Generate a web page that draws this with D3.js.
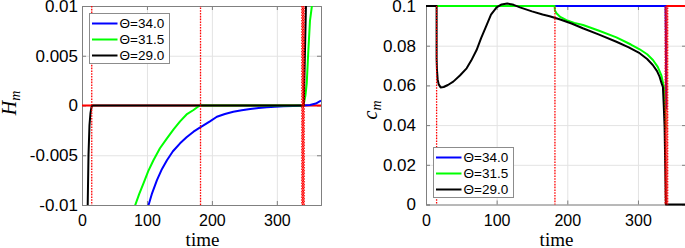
<!DOCTYPE html>
<html lang="en">
<head>
<meta charset="UTF-8">
<title>H_m and c_m over time</title>
<script src="https://cdn.jsdelivr.net/npm/d3@7"></script>
<style>
  body { margin: 0; background: #fff; }
  svg text { font-family: "Liberation Sans", Arial, sans-serif; fill: #000; }
  .serif { font-family: "Liberation Serif", "Times New Roman", serif; }
  .grid line { stroke: #e3e3e3; }
  .grid path { display: none; }
  .frame path, .frame line { stroke: #808080; }
</style>
</head>
<body>
<svg id="chart" width="685" height="248"></svg>
<script>
// legend / series
const legendLabels = ["Θ=34.0", "Θ=31.5", "Θ=29.0"];
const seriesColors = ["#0000ff", "#00ff00", "#000000"];

// ticks
const xTicks = [0, 100, 200, 300];
const hTicks = [-0.01, -0.005, 0, 0.005, 0.01];
const hTickLabels = ["-0.01", "-0.005", "0", "0.005", "0.01"];
const cTicks = [0, 0.02, 0.04, 0.06, 0.08, 0.1];
const cTickLabels = ["0", "0.02", "0.04", "0.06", "0.08", "0.1"];

// red dotted switching times
const switchTimes = [15, 182.5, 338.5, 339.7, 340.9, 342.1];

// H_m, [time, value]
const hBlue = [[100,-0.0108],[102.5,-0.01],[108,-0.0088],[115.4,-0.0075],[123,-0.0064],[130.8,-0.0055],
  [140,-0.0046],[151,-0.0038],[161,-0.0032],[171.7,-0.00263],[182,-0.0022],[197,-0.0016],[207.7,-0.00113],
  [220,-0.00085],[233,-0.00062],[246,-0.00047],[259,-0.00035],[272,-0.00025],[284.6,-0.00018],[297,-0.00012],
  [310,-0.00008],[325,-0.00005],[341,0],[351,0.00005],[360,0.0002],[368,0.0005]];
const hGreen = [[80,-0.0115],[82,-0.01],[88,-0.0089],[94.8,-0.0078],[102,-0.0066],[110,-0.0055],[120,-0.0043],
  [130.8,-0.0033],[141,-0.0024],[151,-0.0016],[161,-0.0009],[171.7,-0.00045],[178,-0.00015],[182,0],
  [341,0],[344,0.001],[346,0.0022],[348.5,0.0055],[351,0.0085],[355,0.0105]];
const hBlack = [[8.3,-0.012],[10,-0.005],[11.5,-0.002],[13,-0.0008],[14.5,-0.0002],[15.5,0],
  [341.5,0],[345,0.0105]];
const hRef = [[0,0],[368,0]];

// c_m, [time, value]
const cBlue = [[0,0.1],[339,0.1],[339.5,0.086],[340,0.048]];
const cGreen = [[0,0.1],[182,0.1],[182.5,0.0977],[184.7,0.0963],[190,0.0945],[198.8,0.0929],[210,0.0915],
  [222.3,0.0904],[245,0.0875],[269.5,0.0842],[290,0.0806],[302.4,0.0782],[313,0.0757],[321.2,0.0728],
  [328,0.0693],[333,0.0652],[336.7,0.0593],[338,0.05],[339,0.038]];
const cBlack = [[0,0.1],[15,0.1],[15,0.0737],[15.5,0.068],[16.5,0.063],[18,0.0605],[20.7,0.059],[25,0.0592],
  [31,0.0602],[38.6,0.0619],[48,0.065],[57.5,0.0686],[64,0.0725],[71.6,0.0778],[78,0.0838],[85.8,0.0904],
  [92,0.0957],[99.9,0.0993],[107,0.1008],[115,0.1013],[124,0.1006],[133,0.0993],[150,0.0973],[165,0.0957],
  [175,0.0948],[190,0.0932],[206,0.0912],[222,0.0888],[245,0.0856],[269.5,0.082],[287,0.0792],[302.4,0.0762],
  [313,0.0733],[321,0.0703],[327,0.0672],[330.6,0.0644],[333.5,0.061],[335.3,0.0593],[336.5,0.05],
  [337.7,0.0392],[339.5,0],[368,0]];
const cRef = [[0,0.1],[368,0.1]];

const svg = d3.select("#chart");

function drawPanel(p) {
  const x = d3.scaleLinear().domain([0, 368]).range([p.left, p.right]);
  const y = d3.scaleLinear().domain(p.yDomain).range([p.bottom, p.top]);
  const g = svg.append("g");
  const w = p.right - p.left, h = p.bottom - p.top;

  // grid
  g.append("g").attr("class", "grid")
   .attr("transform", `translate(0,${p.bottom})`)
   .call(d3.axisBottom(x).tickValues(xTicks).tickSize(-h).tickFormat(""));
  g.append("g").attr("class", "grid")
   .attr("transform", `translate(${p.left},0)`)
   .call(d3.axisLeft(y).tickValues(p.yTicks).tickSize(-w).tickFormat(""));

  // axes box (below the data, like matlab)
  g.append("g").attr("class", "frame")
   .attr("transform", `translate(0,${p.bottom})`)
   .call(d3.axisBottom(x).tickValues(xTicks).tickSize(-4).tickPadding(10))
   .selectAll("text").attr("font-size", "16px");
  g.append("g").attr("class", "frame")
   .attr("transform", `translate(0,${p.top})`)
   .call(d3.axisTop(x).tickValues(xTicks).tickSize(-4).tickFormat(""));
  g.append("g").attr("class", "frame")
   .attr("transform", `translate(${p.left},0)`)
   .call(d3.axisLeft(y).tickValues(p.yTicks).tickSize(-4).tickPadding(p.yPad)
     .tickFormat((d, i) => p.yTickLabels[i]))
   .selectAll("text").attr("font-size", "17px");
  g.append("g").attr("class", "frame")
   .attr("transform", `translate(${p.right},0)`)
   .call(d3.axisRight(y).tickValues(p.yTicks).tickSize(-4).tickFormat(""));

  // clip
  g.append("clipPath").attr("id", p.id)
   .append("rect")
   .attr("x", p.left).attr("y", p.top - p.clipPad)
   .attr("width", w).attr("height", h + 2 * p.clipPad);

  const plot = g.append("g").attr("clip-path", `url(#${p.id})`);
  const line = d3.line().x(d => x(d[0])).y(d => y(d[1]));

  plot.append("path").datum(p.ref)
   .attr("fill", "none").attr("stroke", "#ff0000").attr("stroke-width", 2).attr("d", line);

  p.series.forEach((s, i) => {
    plot.append("path").datum(s)
     .attr("fill", "none").attr("stroke", seriesColors[i])
     .attr("stroke-width", 2).attr("stroke-linejoin", "round").attr("d", line);
  });

  // offset dashes so the cluster near 340 looks dense
  plot.selectAll(".switch").data(switchTimes).enter().append("line")
   .attr("x1", d => x(d)).attr("x2", d => x(d))
   .attr("y1", p.top).attr("y2", p.bottom)
   .attr("stroke", "#ff0000").attr("stroke-width", 1.3)
   .attr("stroke-dasharray", "1.6,1.2")
   .attr("stroke-dashoffset", (d, i) => (i % 2) * 1.4);

  // x label
  g.append("text").attr("class", "serif")
   .attr("x", (p.left + Math.min(p.right, 685)) / 2 + 1).attr("y", 246)
   .attr("text-anchor", "middle").attr("font-size", "19px")
   .text("time");

  // y label
  const yl = g.append("text").attr("class", "serif")
   .attr("transform", `translate(${p.yLabelX},${p.yLabelY}) rotate(-90)`)
   .attr("text-anchor", "middle").attr("font-size", "20px").attr("font-style", "italic");
  yl.append("tspan").text(p.yLabel);
  yl.append("tspan").attr("font-size", "14px").attr("dy", 4).text("m");

  // legend
  const lg = g.append("g").attr("transform", `translate(${p.legend[0]},${p.legend[1]})`);
  lg.append("rect").attr("width", 80).attr("height", 50)
   .attr("fill", "#fff").attr("stroke", "#8c8c8c").attr("stroke-width", 1);
  legendLabels.forEach((lab, i) => {
    const ly = 10 + i * 16;
    lg.append("line").attr("x1", 2.5).attr("x2", 28).attr("y1", ly).attr("y2", ly)
     .attr("stroke", seriesColors[i]).attr("stroke-width", 2);
    lg.append("text").attr("x", 30).attr("y", ly).attr("dy", "0.36em")
     .attr("font-size", "13.5px").text(lab);
  });
}

drawPanel({
  id: "clipH", left: 82, right: 321, top: 6, bottom: 205,
  yDomain: [-0.01, 0.01], yTicks: hTicks, yTickLabels: hTickLabels, yPad: 4,
  series: [hBlue, hGreen, hBlack], ref: hRef, clipPad: 0,
  yLabel: "H", yLabelX: 16, yLabelY: 103, legend: [89.5, 13.5]
});

drawPanel({
  id: "clipC", left: 426, right: 686, top: 6, bottom: 204.5,
  yDomain: [0, 0.1], yTicks: cTicks, yTickLabels: cTickLabels, yPad: 10,
  series: [cBlue, cGreen, cBlack], ref: cRef, clipPad: 4,
  yLabel: "c", yLabelX: 377, yLabelY: 110, legend: [433.5, 147.5]
});
</script>
</body>
</html>
